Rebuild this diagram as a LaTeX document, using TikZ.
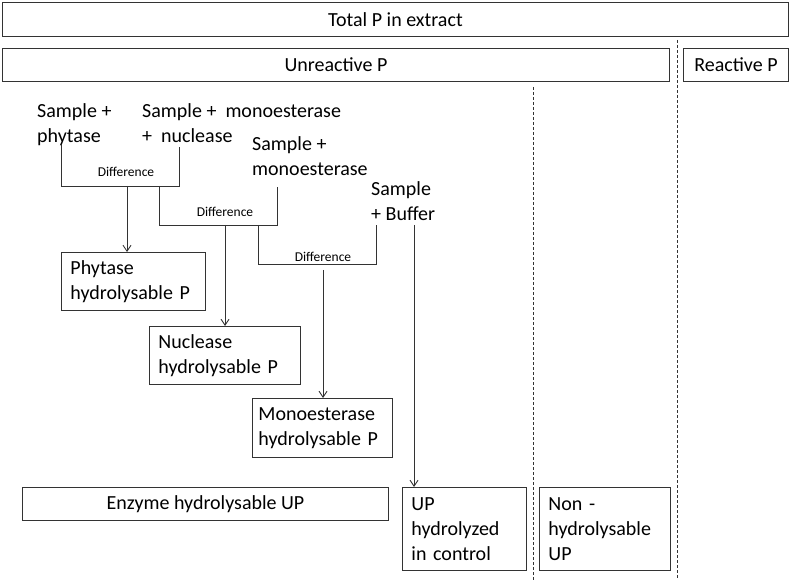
\documentclass[tikz,border=0pt]{standalone}
\usepackage{fontspec}
\setmainfont{Carlito}
\usetikzlibrary{arrows.meta}
\newcommand{\bigtxt}{\fontsize{20}{25}\selectfont}
\newcommand{\difftxt}{\fontsize{13.5}{16}\selectfont}
\tikzset{
  bar/.style={draw=black!80, line width=0.9pt, inner sep=0pt, anchor=north west, font=\bigtxt},
  resbox/.style={draw=black!80, line width=0.9pt, anchor=north west, align=left, inner xsep=9pt, inner ysep=0pt, font=\bigtxt},
  sample/.style={anchor=base west, align=left, inner sep=0pt, font=\bigtxt},
  diff/.style={inner sep=0pt, font=\difftxt},
  link/.style={draw=black!80, line width=0.9pt},
  split/.style={draw=black!80, line width=0.8pt, dash pattern=on 3pt off 2pt},
  >={Straight Barb[length=6pt,width=8pt]}
}
\begin{document}
\begin{tikzpicture}[x=1pt,y=-1pt]
  \useasboundingbox (0,0) rectangle (790,580);

  \node[bar, minimum width=786pt, minimum height=34pt] (total) at (2,2) {Total P in extract};
  \node[bar, minimum width=667pt, minimum height=33pt] (unreact) at (2,48) {Unreactive P};
  \node[bar, minimum width=105pt, minimum height=33pt] (react) at (683,48) {Reactive P};

  \draw[split] (677,40) -- (677,580);
  \draw[split] (533,87) -- (533,580);

  \node[sample] (phy) at (37,143) {Sample +\\phytase};
  \node[sample] (nuc) at (142,143) {Sample +\ \ monoesterase\\+\ \ nuclease};
  \node[sample] (mono) at (252,176) {Sample +\\monoesterase};
  \node[sample] (buffer) at (371,221) {Sample\\+ Buffer};

  \node[resbox, text width=126pt, minimum height=58pt] (phyP) at (61,252) {Phytase\\hydrolysable P};
  \node[resbox, text width=133pt, minimum height=58pt] (nucP) at (149,326) {Nuclease\\hydrolysable P};
  \node[resbox, inner xsep=6pt, text width=128pt, minimum height=59pt] (monoP) at (252,398) {Monoesterase\\hydrolysable P};
  \node[bar, minimum width=366pt, minimum height=33pt] (enzUP) at (22,487) {Enzyme hydrolysable UP};
  \node[resbox, text width=106pt, minimum height=83pt] (ctrlUP) at (402,487) {UP\\hydrolyzed\\in control};
  \node[resbox, text width=113pt, minimum height=83pt] (nonUP) at (539,487) {Non -\\hydrolysable\\UP};

  \coordinate (d1l) at (61,145);
  \coordinate (d1r) at (179,147);
  \coordinate (d1) at (127,186);
  \coordinate (d2l) at (159,186);
  \coordinate (d2r) at (277,187);
  \coordinate (d2) at (225,225);
  \coordinate (d3l) at (258,225);
  \coordinate (d3r) at (376,225);
  \coordinate (d3) at (323,264);
  \coordinate (buf) at (414,225);

  \draw[link] (d1l) |- (d1r |- d1) -- (d1r);
  \draw[link] (d2l) |- (d2r |- d2) -- (d2r);
  \draw[link] (d3l) |- (d3r |- d3) -- (d3r);
  \node[diff] (diff1) at (126,172) {Difference};
  \node[diff] (diff2) at (225,212) {Difference};
  \node[diff] (diff3) at (323,257) {Difference};

  \draw[link,->] (d1) -- (d1 |- phyP.north);
  \draw[link,->] (d2) -- (d2 |- nucP.north);
  \draw[link,->,shorten <=6pt] (d3) -- (d3 |- monoP.north);
  \draw[link,->] (buf) -- (buf |- ctrlUP.north);
\end{tikzpicture}
\end{document}
